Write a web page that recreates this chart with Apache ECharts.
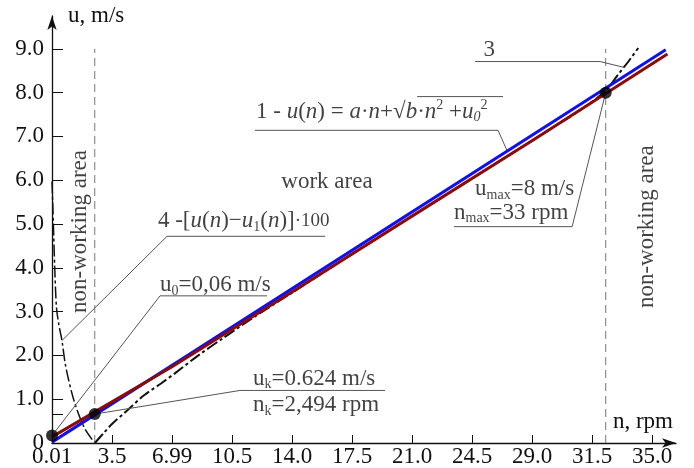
<!DOCTYPE html>
<html>
<head>
<meta charset="utf-8">
<script src="https://cdn.jsdelivr.net/npm/echarts@6/dist/echarts.min.js"></script>
<style>html,body{margin:0;padding:0;background:#fff;}#c{width:694px;height:468px;}</style>
</head>
<body>
<div id="c"></div>
<script>
// ---- axis ticks ----
const nTicks = [0, 3.5, 7, 10.5, 14, 17.5, 21, 24.5, 28, 31.5, 35];
const nTickLabels = ['0.01', '3.5', '6.99', '10.5', '14.0', '17.5', '21.0', '24.5', '29.0', '31.5', '35.0'];
const uTicks = [0, 1, 2, 3, 4, 5, 6, 7, 8, 9];
const uTickLabels = ['0', '1.0', '2.0', '3.0', '4.0', '5.0', '6.0', '7.0', '8.0', '9.0'];
const uKTick = 0.66;

// ---- curves (n, rpm ; u, m/s) ----
const blueLine = [[0, 0.02], [35.8, 8.98]];
const redLine = [[0, 0.14], [7, 1.74], [14, 3.45], [21, 5.18], [28, 6.9], [35.9, 8.88]];
const curve3 = [[2.5, 0], [3.0, 0.22], [3.44, 0.41], [4.4, 0.75], [5.37, 1.09], [6.36, 1.36], [7.3, 1.63],
  [8.5, 1.99], [10, 2.40], [12, 2.93], [14, 3.43], [17, 4.19], [21, 5.18], [25, 6.16], [29, 7.15],
  [31, 7.65], [32.3, 8.05], [33, 8.4], [33.6, 8.7], [34.2, 9.02]];
const curve4 = [[0, 5.97], [0.04, 5.5], [0.08, 5.0], [0.16, 4.0], [0.26, 3.1], [0.4, 2.7], [0.58, 2.34],
  [0.8, 1.75], [1.28, 0.97], [1.87, 0.36], [2.45, 0.02]];
const nK = 2.494, nMax = 32.3, uTop = 9.0;
const points = [[0, 0.17], [2.494, 0.66], [32.3, 8.0]];

// ---- leader lines (annotation) ----
const leader1 = [[11.84, 7.14], [26.02, 7.14], [26.55, 6.67]];
const sqrtBar = [[21.3, 7.91], [26.31, 7.91]];
const leader3 = [[24.68, 8.71], [31.97, 8.71], [33.43, 8.57]];
const leaderMax = [[23.45, 4.94], [30.34, 4.94], [32.3, 8.0]];
const leader4 = [[15.93, 4.72], [6.71, 4.72], [0.58, 2.34]];
const leaderU0 = [[12.54, 3.36], [6.30, 3.36], [0, 0.17]];
const leaderK = [[2.494, 0.66], [10.97, 1.20], [19.43, 1.20]];

const FONT = "'Liberation Serif', 'Times New Roman', serif";
const FS = 23;

const rich = {
  t: { fontSize: FS, fontFamily: FONT, color: '#111', lineHeight: 26 },
  i: { fontSize: FS, fontFamily: FONT, fontStyle: 'italic', color: '#111', lineHeight: 26 },
  s: { fontSize: 14, fontFamily: FONT, color: '#111', lineHeight: 14, verticalAlign: 'bottom' },
  si: { fontSize: 14, fontFamily: FONT, fontStyle: 'italic', color: '#111', lineHeight: 14, verticalAlign: 'bottom' },
  p: { fontSize: 14, fontFamily: FONT, color: '#111', lineHeight: 14, verticalAlign: 'top' },
  sm: { fontSize: 19, fontFamily: FONT, color: '#111', lineHeight: 26 }
};

const texts = [
  { pos: [16.04, 5.96], align: 'center', text: '{t|work area}' },
  { pos: [11.9, 7.57], align: 'left', text: '{t|1 - }{i|u}{t|(}{i|n}{t|) = }{i|a}{t|·}{i|n}{t|+√}{i|b}{t|·}{i|n}{p|2}{t| +}{i|u}{si|0}{p|2}' },
  { pos: [25.5, 8.98], align: 'center', text: '{t|3}' },
  { pos: [24.68, 5.80], align: 'left', text: '{t|u}{s|max}{t|=8 m/s}' },
  { pos: [23.45, 5.26], align: 'left', text: '{t|n}{s|max}{t|=33 rpm}' },
  { pos: [6.18, 5.06], align: 'left', text: '{t|4 -[}{i|u}{t|(}{i|n}{t|)−}{i|u}{s|1}{t|(}{i|n}{t|)]}{sm|·100}' },
  { pos: [6.30, 3.61], align: 'left', text: '{t|u}{s|0}{t|=0,06 m/s}' },
  { pos: [11.73, 1.47], align: 'left', text: '{t|u}{s|k}{t|=0.624 m/s}' },
  { pos: [11.73, 0.86], align: 'left', text: '{t|n}{s|k}{t|=2,494 rpm}' },
  { pos: [1.63, 4.83], align: 'center', rotate: 90, text: '{t|non-working area}' },
  { pos: [34.71, 4.94], align: 'center', rotate: 90, text: '{t|non-working area}' }
];

function lookup(v, ticks, labels) {
  for (let k = 0; k < ticks.length; k++) if (Math.abs(ticks[k] - v) < 1e-6) return labels[k];
  return '';
}

const thin = (data) => ({
  type: 'line', data: data, symbol: 'none', silent: true, z: 3,
  lineStyle: { color: '#555', width: 1 }
});

const chart = echarts.init(document.getElementById('c'), null, { renderer: 'canvas' });
chart.setOption({
  animation: false,
  backgroundColor: '#fff',
  grid: { left: 52, right: 18, top: 16, bottom: 22 },
  xAxis: {
    type: 'value', min: 0, max: 36.4,
    name: 'n, rpm', nameLocation: 'end', nameGap: 0,
    nameTextStyle: { fontFamily: FONT, fontSize: FS, color: '#111', align: 'right', verticalAlign: 'bottom', padding: [0, 3, 10, 0] },
    axisLine: { lineStyle: { color: '#111', width: 1.3 }, symbol: ['none', 'arrow'], symbolSize: [7, 14] },
    axisTick: { inside: true, length: 8, customValues: nTicks, lineStyle: { color: '#111' } },
    axisLabel: { customValues: nTicks, margin: 2, fontFamily: FONT, fontSize: FS, color: '#111',
      formatter: (v) => lookup(v, nTicks, nTickLabels) },
    splitLine: { show: false }
  },
  yAxis: {
    type: 'value', min: 0, max: 9.75,
    name: 'u, m/s', nameLocation: 'end', nameGap: 0,
    nameTextStyle: { fontFamily: FONT, fontSize: FS, color: '#111', align: 'left', verticalAlign: 'middle', padding: [0, 0, 0, 16] },
    axisLine: { lineStyle: { color: '#111', width: 1.3 }, symbol: ['none', 'arrow'], symbolSize: [7, 14] },
    axisTick: { inside: true, length: 11, customValues: uTicks.concat([uKTick]), lineStyle: { color: '#111' } },
    axisLabel: { customValues: uTicks, margin: 8, fontFamily: FONT, fontSize: FS, color: '#111',
      formatter: (v) => lookup(v, uTicks, uTickLabels) },
    splitLine: { show: false }
  },
  series: [
    { type: 'line', data: [[nK, 0], [nK, uTop]], symbol: 'none', silent: true, z: 1,
      lineStyle: { color: '#777', width: 1, type: [8, 5] } },
    { type: 'line', data: [[nMax, 0], [nMax, uTop]], symbol: 'none', silent: true, z: 1,
      lineStyle: { color: '#777', width: 1, type: [8, 5] } },
    thin(leader1), thin(sqrtBar), thin(leader3), thin(leaderMax), thin(leader4), thin(leaderU0), thin(leaderK),
    { type: 'line', data: curve3, symbol: 'none', smooth: 0.3, silent: true, z: 2,
      lineStyle: { color: '#111', width: 2, type: [12, 3, 3, 3] } },
    { type: 'line', data: curve4, symbol: 'none', smooth: 0.3, silent: true, z: 2,
      lineStyle: { color: '#111', width: 1.5, type: [12, 3, 3, 3] } },
    { type: 'line', data: blueLine, symbol: 'none', silent: true, z: 4,
      lineStyle: { color: '#1010ee', width: 3 } },
    { type: 'line', data: redLine, symbol: 'none', silent: true, z: 5,
      lineStyle: { color: '#8b0a0a', width: 3 } },
    { type: 'scatter', data: points, symbolSize: 12, silent: true, z: 6,
      itemStyle: { color: '#000' } },
    { type: 'scatter', clip: false, symbolSize: 0, silent: true, z: 7,
      data: texts.map(t => ({
        value: t.pos,
        label: { show: true, position: 'inside', align: t.align, verticalAlign: 'middle',
          rotate: t.rotate || 0, formatter: t.text, rich: rich }
      }))
    }
  ]
});
</script>
</body>
</html>
